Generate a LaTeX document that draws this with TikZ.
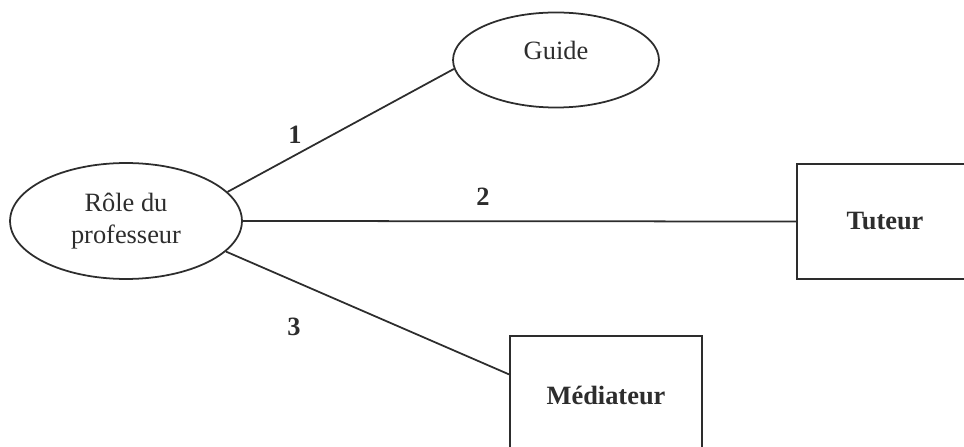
\documentclass[12pt,tikz,border=0pt]{standalone}
\usepackage{fontspec}
\setmainfont{Liberation Serif}
\usepackage{xcolor}
\usetikzlibrary{positioning, shapes}
\definecolor{myline}{RGB}{45, 45, 45}

\begin{document}
\begin{tikzpicture}[x=0.4545pt,y=-0.4545pt,
          oval/.style={draw=myline,ellipse,line width=0.8pt,inner sep=0pt,
                       align=center,text=myline},
          box/.style={draw=myline,rectangle,line width=0.8pt,inner sep=0pt,
                      font=\bfseries,text=myline},
          num/.style={font=\bfseries,text=myline},
          link/.style={draw=myline,line width=0.8pt}]
        \useasboundingbox (0,0) rectangle (964,447);
        \clip (0,0) rectangle (964,447);
        \node[oval,minimum width=105.4pt,minimum height=52.7pt](role) at (126,221){
          Rôle du\\professeur
        };
        \node[oval,minimum width=93.6pt,minimum height=43.2pt,text depth=9pt](guide) at (556,60){Guide};
        \node[box,minimum width=80pt,minimum height=52.3pt](tuteur) at (885,221.5){Tuteur};
        \node[box,minimum width=87.3pt,minimum height=53.6pt](mediateur) at (606,395){Médiateur};
        % numeros des liens
        \node[num](n1) at (295,135){1};
        \node[num](n2) at (483,197){2};
        \node[num](n3) at (294,327){3};
        \draw[link](role.16)--(guide.185);
        \draw[link](role.east)--(tuteur.west);
        \draw[link](role.-17)--(mediateur.168);
      \end{tikzpicture}
\end{document}
